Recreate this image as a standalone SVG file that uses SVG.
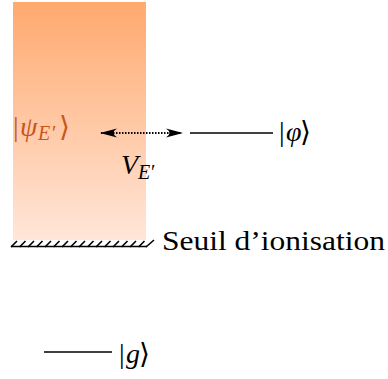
<svg xmlns="http://www.w3.org/2000/svg" width="388" height="379" viewBox="0 0 388 379">
<style>
.m{font-family:"Liberation Serif","DejaVu Serif",serif;font-size:28px;fill:#000}
.i{font-style:italic}
.s{font-size:20px}
.o{fill:#c8561c}
.lvl{stroke:#000;stroke-width:1.3;fill:none}
.txt{font-family:"Liberation Serif","DejaVu Serif",serif;font-size:27px;fill:#000}
</style>
<defs>
<linearGradient id="cont" x1="0" y1="0" x2="0" y2="1">
<stop offset="0" stop-color="#ffa96e"/>
<stop offset="1" stop-color="#ffe6d9"/>
</linearGradient>
<marker id="ah" viewBox="0 0 17 10" refX="16" refY="5" markerWidth="17" markerHeight="10" markerUnits="userSpaceOnUse" orient="auto-start-reverse">
<path d="M0,0.5 Q7,5 0,9.5 L17,5 Z" fill="#000"/>
</marker>
</defs>
<g id="continuum">
<rect x="13" y="2" width="133" height="238" fill="url(#cont)"/>
<text class="m o" x="13" y="136">|<tspan class="i" x="20">ψ</tspan><tspan class="i s" x="38" dy="4">E</tspan><tspan class="s" x="52">′</tspan><tspan x="59" dy="-4">⟩</tspan></text>
</g>
<g id="threshold">
<path class="lvl" d="M11,246.5 H147"/>
<path d="M11,247 l6,-6 M19.5,247 l6,-6 M28,247 l6,-6 M36.5,247 l6,-6 M45,247 l6,-6 M53.5,247 l6,-6 M62,247 l6,-6 M70.5,247 l6,-6 M79,247 l6,-6 M87.5,247 l6,-6 M96,247 l6,-6 M104.5,247 l6,-6 M113,247 l6,-6 M121.5,247 l6,-6 M130,247 l6,-6 M138.5,247 l6,-6 M146,247 l8,-7" stroke="#000" stroke-width="1.6" fill="none"/>
<text class="txt" x="162" y="250" textLength="223" lengthAdjust="spacingAndGlyphs">Seuil d’ionisation</text>
</g>
<g id="phi">
<path class="lvl" d="M190,133 H273"/>
<text class="m" x="279" y="141">|<tspan class="i" x="286">φ</tspan><tspan x="300">⟩</tspan></text>
</g>
<g id="ground">
<path class="lvl" d="M44,352 H112"/>
<text class="m" x="119" y="363">|<tspan class="i" x="126">g</tspan><tspan x="139">⟩</tspan></text>
</g>
<g id="connectors">
<path d="M101,133 H182" stroke="#000" stroke-width="2" stroke-dasharray="1.5,1.5" fill="none" marker-start="url(#ah)" marker-end="url(#ah)"/>
<text class="m" x="121" y="174"><tspan class="i">V</tspan><tspan class="i s" x="138" dy="5">E</tspan><tspan class="s" x="151">′</tspan></text>
</g>
</svg>
